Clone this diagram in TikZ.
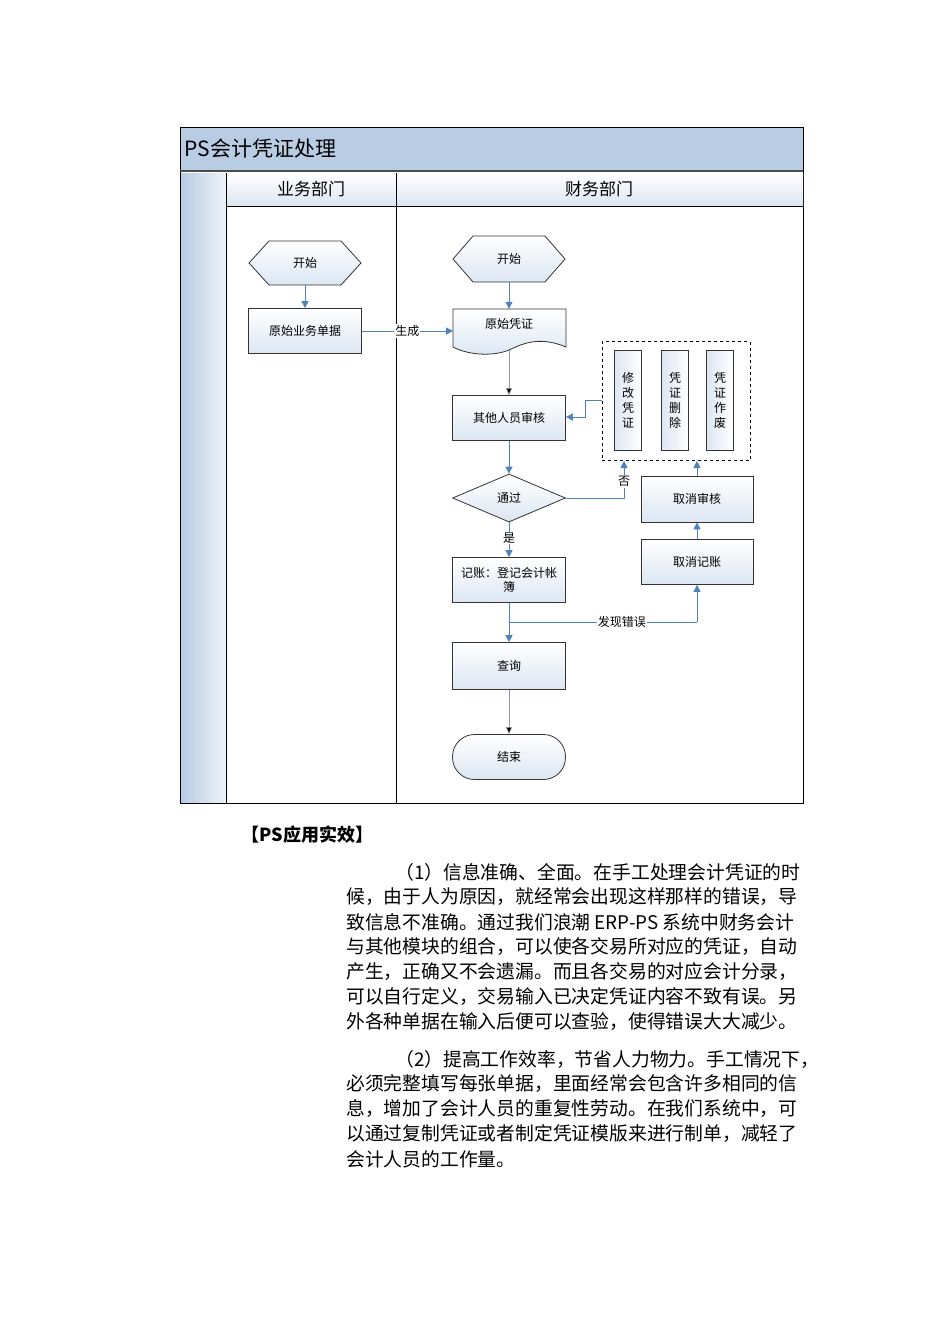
\documentclass[tikz,border=0pt]{standalone}
\usepackage{fontspec}
\setmainfont{Noto Sans CJK SC}
\usetikzlibrary{shapes.geometric,shapes.symbols,arrows.meta}
\definecolor{hb}{HTML}{B8CCE4}
\definecolor{nb}{HTML}{DCE6F2}
\definecolor{ab}{HTML}{4F81BD}
\begin{document}
\begin{tikzpicture}[x=1pt,y=-1pt,
 box/.style={draw=black!80,line width=0.8pt,top color=white,bottom color=nb,minimum width=113pt,minimum height=45pt,inner sep=1pt,font=\fontsize{12}{14}\selectfont,align=center},
 ar/.style={draw=ab,line width=1pt,-{Triangle[length=7pt,width=7pt]}},
 gr/.style={draw=black!40,line width=0.6pt,-{Triangle[length=7pt,width=6pt,fill=black]}},
 lb/.style={fill=white,inner sep=1pt,font=\fontsize{12}{14}\selectfont},
 vb/.style={draw=black!80,line width=0.8pt,left color=nb,right color=white,minimum width=27pt,minimum height=100pt,inner sep=0pt,font=\fontsize{12}{15}\selectfont,align=center},
 body/.style={anchor=west,inner sep=0pt,font=\fontsize{18.8}{20}\selectfont}]
\useasboundingbox (0,0) rectangle (950,1344);
% frame
\fill[hb] (180,127) rectangle (803,170);
\draw[line width=0.8pt] (180,127) rectangle (803,803);
\draw[line width=1.5pt,black!70] (180,171) -- (803,171);
\shade[left color=hb,right color=nb!50] (181,173) rectangle (226,802);
\shade[top color=white,bottom color=nb] (226,173) rectangle (803,206);
\draw[line width=0.8pt] (226,173) -- (226,803) (396,173) -- (396,803) (226,206) -- (803,206);
\node[anchor=west,font=\fontsize{21}{24}\selectfont] (title) at (181,149) {PS会计凭证处理};
\node[font=\fontsize{17}{20}\selectfont] (l1) at (311,189) {业务部门};
\node[font=\fontsize{17}{20}\selectfont] (l2) at (599,189) {财务部门};
% nodes
\path[draw=black!80,line width=0.8pt,top color=white,bottom color=nb] (249,263) -- (269,241) -- (341,241) -- (361,263) -- (341,285) -- (269,285) -- cycle;
\node[font=\fontsize{12}{14}\selectfont,minimum width=112pt,minimum height=44pt] (s1) at (305,263) {开始};
\path[draw=black!80,line width=0.8pt,top color=white,bottom color=nb] (453,259) -- (473,236) -- (545,236) -- (565,259) -- (545,282) -- (473,282) -- cycle;
\node[font=\fontsize{12}{14}\selectfont,minimum width=112pt,minimum height=46pt] (s2) at (509,259) {开始};
\node[box] (d1) at (305,331) {原始业务单据};
\path[draw=black!80,line width=0.8pt,top color=white,bottom color=nb] (453,309) -- (566,309) -- (566,347) .. controls (538,335) and (520,345) .. (509,350) .. controls (495,356) and (470,356) .. (453,347) -- cycle;
\node[font=\fontsize{12}{14}\selectfont,minimum width=113pt,minimum height=30pt] (d2) at (509,324) {原始凭证};
\coordinate (d2b) at (509,350);
\node[box] (au) at (509,418) {其他人员审核};
\node[box,diamond,aspect=2.4,minimum width=113pt,minimum height=48pt,inner sep=0pt] (dm) at (509,498) {通过};
\node[box] (rc) at (509,580) {记账：登记会计帐\\簿};
\node[box,minimum height=47pt] (q) at (509,666) {查询};
\node[box,rounded corners=22pt] (e) at (509,757) {结束};
\node[draw,dashed,line width=1pt,minimum width=148pt,minimum height=119pt] (grp) at (676,401) {};
\node[vb] (v1) at (628,400) {修\\改\\凭\\证};
\node[vb] (v2) at (675,400) {凭\\证\\删\\除};
\node[vb] (v3) at (720,400) {凭\\证\\作\\废};
\node[box,minimum width=112pt,minimum height=46pt] (ca) at (697,499) {取消审核};
\node[box,minimum width=112pt,minimum height=45pt] (cr) at (697,562) {取消记账};
% edges
\draw[ar] (s1) -- (d1);
\draw[ar] (s2) -- (d2);
\draw[ar] (d1) -- node[lb] {生成} (453,331);
\draw[gr] (d2b) -- (au);
\draw[ar] (au) -- (dm);
\draw[ar] (dm.east) -- (624,498) -- node[lb,pos=0.45] {否} (grp.south west -| 624,0);
\draw[ar] (grp.west |- 0,400) -- (585,400) -- (585,417) -- (au.east |- 0,417);
\draw[ar] (dm) -- node[lb,pos=0.45] {是} (rc);
\draw[ar] (rc) -- (q);
\coordinate (br) at (509,622);
\draw[draw=ab,line width=1pt] (br) -- node[lb,pos=0.6] {发现错误} (697,622);
\draw[ar] (697,622) -- (cr);
\draw[ar] (cr) -- (ca);
\draw[ar] (ca) -- (grp.south -| ca);
\draw[gr] (q) -- (e);
% text
\node[anchor=west,font=\fontsize{18}{20}\selectfont\bfseries] (h) at (238,835) {【PS应用实效】};
\node[body] (t1) at (395,872) {（1）信息准确、全面。在手工处理会计凭证的时};
\node[body] (t2) at (346,897) {候，由于人为原因，就经常会出现这样那样的错误，导};
\node[body] (t3) at (346,922) {致信息不准确。通过我们浪潮 ERP-PS 系统中财务会计};
\node[body] (t4) at (346,947) {与其他模块的组合，可以使各交易所对应的凭证，自动};
\node[body] (t5) at (346,972) {产生，正确又不会遗漏。而且各交易的对应会计分录，};
\node[body] (t6) at (346,997) {可以自行定义，交易输入已决定凭证内容不致有误。另};
\node[body] (t7) at (346,1022) {外各种单据在输入后便可以查验，使得错误大大减少。};
\node[body] (u1) at (395,1059) {（2）提高工作效率，节省人力物力。手工情况下，};
\node[body] (u2) at (346,1084) {必须完整填写每张单据，里面经常会包含许多相同的信};
\node[body] (u3) at (346,1109) {息，增加了会计人员的重复性劳动。在我们系统中，可};
\node[body] (u4) at (346,1134) {以通过复制凭证或者制定凭证模版来进行制单，减轻了};
\node[body] (u5) at (346,1159) {会计人员的工作量。};
\end{tikzpicture}
\end{document}
